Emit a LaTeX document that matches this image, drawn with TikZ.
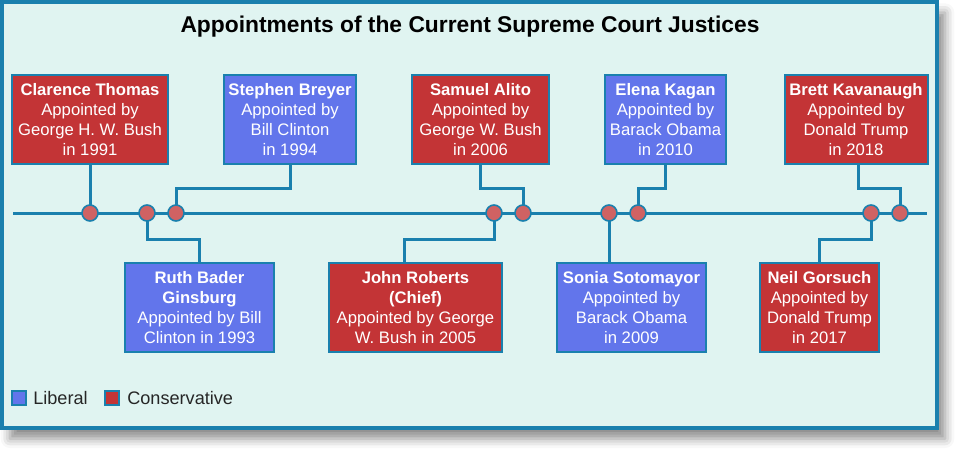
\documentclass[tikz,border=0pt]{standalone}
\usepackage{fontspec}
\setmainfont{Liberation Sans}
\usetikzlibrary{shadows.blur}

\definecolor{linecol}{HTML}{1A80AE}
\definecolor{paper}{HTML}{E0F4F1}
\definecolor{conred}{HTML}{C33436}
\definecolor{libblue}{HTML}{6275EB}
\definecolor{dotred}{HTML}{D06263}

\begin{document}
\begin{tikzpicture}[x=0.75pt,y=-0.75pt,
    box/.style={draw=linecol,line width=1.5pt,text=white,align=center,
      minimum height=66.75pt,inner sep=0pt,font=\fontsize{12.5pt}{15pt}\selectfont},
    redbox/.style={box,fill=conred},
    bluebox/.style={box,fill=libblue},
    dot/.style={circle,draw=linecol,line width=1.2pt,fill=dotred,
      minimum size=12pt,inner sep=0pt},
    link/.style={draw=linecol,line width=2.25pt},
    key/.style={draw=linecol,line width=0.8pt,minimum size=10.5pt,inner sep=0pt},
    keytext/.style={anchor=west,text=black!85,inner sep=0pt,
      font=\fontsize{13.6pt}{16pt}\selectfont}]
    \useasboundingbox (0,0) rectangle (975,465);
    \path [fill=paper,draw=linecol,line width=3pt,
      blur shadow={shadow xshift=6pt,shadow yshift=-8pt,shadow blur radius=7pt,
      shadow opacity=45}] (2,2) rectangle (937,428);
    \path (470,27) node [font=\bfseries\fontsize{17.1pt}{20pt}\selectfont] (title)
      {Appointments of the Current Supreme Court Justices};

    \path (90,119.5) node [redbox,minimum width=117pt] (thomas)
      {\textbf{Clarence Thomas}\\Appointed by\\George H. W. Bush\\in 1991};
    \path (290,119.5) node [bluebox,minimum width=99pt] (breyer)
      {\textbf{Stephen Breyer}\\Appointed by\\Bill Clinton\\in 1994};
    \path (480.5,119.5) node [redbox,minimum width=102.75pt] (alito)
      {\textbf{Samuel Alito}\\Appointed by\\George W. Bush\\in 2006};
    \path (665.5,119.5) node [bluebox,minimum width=90.75pt] (kagan)
      {\textbf{Elena Kagan}\\Appointed by\\Barack Obama\\in 2010};
    \path (856,119.5) node [redbox,minimum width=107.25pt] (kavanaugh)
      {\textbf{Brett Kavanaugh}\\Appointed by\\Donald Trump\\in 2018};

    \path (199.5,307.5) node [bluebox,minimum width=111.75pt] (ginsburg)
      {\textbf{Ruth Bader}\\\textbf{Ginsburg}\\Appointed by Bill\\Clinton in 1993};
    \path (415.5,307.5) node [redbox,minimum width=129.75pt] (roberts)
      {\textbf{John Roberts}\\\textbf{(Chief)}\\Appointed by George\\W. Bush in 2005};
    \path (631.5,307.5) node [bluebox,minimum width=111.75pt] (sotomayor)
      {\textbf{Sonia Sotomayor}\\Appointed by\\Barack Obama\\in 2009};
    \path (819.5,307.5) node [redbox,minimum width=89.25pt] (gorsuch)
      {\textbf{Neil Gorsuch}\\Appointed by\\Donald Trump\\in 2017};

    \coordinate (start) at (13,213);
    \coordinate (end) at (927,213);
    \coordinate (d1) at (90,213);
    \coordinate (d2) at (147,213);
    \coordinate (d3) at (176,213);
    \coordinate (d4) at (494,213);
    \coordinate (d5) at (523,213);
    \coordinate (d6) at (609,213);
    \coordinate (d7) at (638,213);
    \coordinate (d8) at (871,213);
    \coordinate (d9) at (900,213);

    \draw [link] (start) -- (end);
    \draw [link] (thomas.south) -- (d1);
    \draw [link] (breyer.south) -- ++(0,23) -| (d3);
    \draw [link] (alito.south) -- ++(0,23) -| (d5);
    \draw [link] (kagan.south) -- ++(0,23) -| (d7);
    \draw [link] ([xshift=1.5pt]kavanaugh.south) -- ++(0,23) -| (d9);
    \draw [link] (ginsburg.north) -- ++(0,-23) -| (d2);
    \draw [link] ([xshift=-8.6pt]roberts.north) -- ++(0,-23) -| (d4);
    \draw [link] (sotomayor.north -| d6) -- (d6);
    \draw [link] (gorsuch.north) -- ++(0,-23) -| (d8);

    \foreach \d in {d1,d2,d3,d4,d5,d6,d7,d8,d9}
      \path (\d) node [dot] {};

    \path (19,398) node [key,fill=libblue] (libkey) {};
    \path (33,398) node [keytext] (liblabel) {Liberal};
    \path (112,398) node [key,fill=conred] (conkey) {};
    \path (127,398) node [keytext] (conlabel) {Conservative};
\end{tikzpicture}
\end{document}
